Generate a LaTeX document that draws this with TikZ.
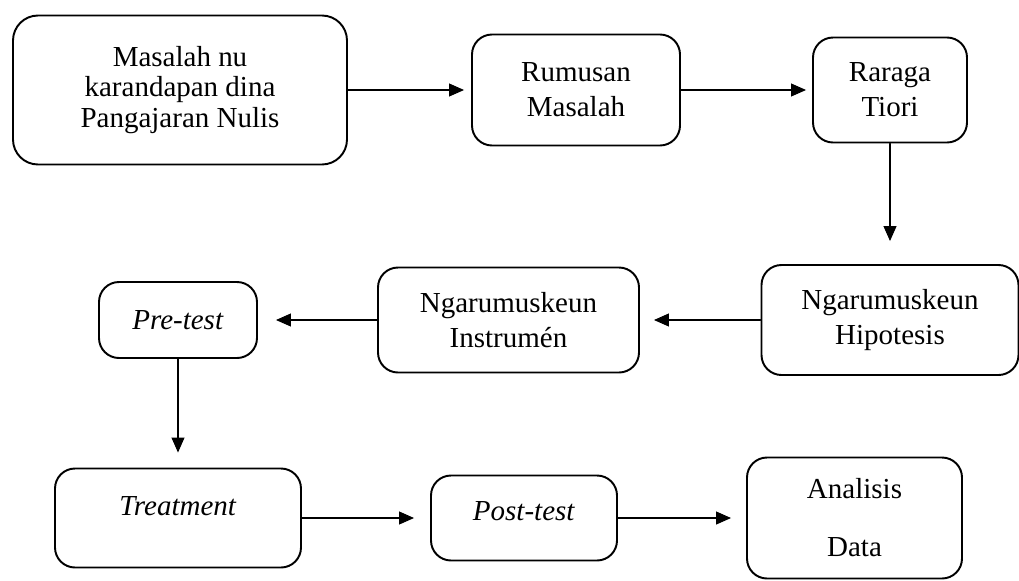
\documentclass[tikz,border=0pt]{standalone}
\usepackage{fontspec}
\setmainfont{Liberation Serif}
\usetikzlibrary{arrows.meta}

\begin{document}
\begin{tikzpicture}[font=\fontsize{16.5}{20}\selectfont, line join=round, line cap=round, >={Triangle[length=0.3cm,width=0.26cm]},
	box/.style={draw, line width=1.1pt, rounded corners=0.4cm, align=center, inner sep=2pt},
	flow/.style={->, line width=0.6pt}]
	\useasboundingbox (0,0) rectangle (20.38,-11.6);
	\node[box, minimum width=6.68cm, minimum height=2.98cm, rounded corners=0.5cm, font=\fontsize{16.5}{17.5}\selectfont] (masalah) at (3.6,-1.8) {Masalah nu\\karandapan dina\\Pangajaran Nulis};
	\node[box, minimum width=4.16cm, minimum height=2.22cm] (rumusan) at (11.52,-1.8) {Rumusan\\Masalah};
	\node[box, minimum width=3.08cm, minimum height=2.1cm] (tiori) at (17.8,-1.8) {Raraga\\Tiori};
	\node[box, minimum width=5.14cm, minimum height=2.2cm] (hipotesis) at (17.8,-6.4) {Ngarumuskeun\\Hipotesis};
	\node[box, minimum width=5.22cm, minimum height=2.1cm] (instrumen) at (10.17,-6.4) {Ngarumuskeun\\Instrumén};
	\node[box, minimum width=3.16cm, minimum height=1.52cm] (pretest) at (3.56,-6.4) {\textit{Pre-test}};
	\node[box, minimum width=4.92cm, minimum height=1.98cm, text depth=0.5cm] (treatment) at (3.56,-10.36) {\textit{Treatment}};
	\node[box, minimum width=3.72cm, minimum height=1.7cm, text depth=0.3cm] (posttest) at (10.48,-10.36) {\textit{Post-test}};
	\node[box, minimum width=4.3cm, minimum height=2.42cm, font=\fontsize{16.5}{33}\selectfont] (analisis) at (17.09,-10.36) {Analisis\\Data};
	\draw[flow, shorten >=0.14cm] (masalah) -- (rumusan);
	\draw[flow, shorten >=0.12cm] (rumusan) -- (tiori);
	\draw[flow, shorten >=0.46cm] (tiori) -- (hipotesis);
	\draw[flow, shorten >=0.28cm] (hipotesis) -- (instrumen);
	\draw[flow, shorten >=0.36cm] (instrumen) -- (pretest);
	\draw[flow, shorten >=0.3cm] (pretest) -- (treatment);
	\draw[flow, shorten >=0.32cm] (treatment) -- (posttest);
	\draw[flow, shorten >=0.3cm] (posttest) -- (analisis);
\end{tikzpicture}
\end{document}
